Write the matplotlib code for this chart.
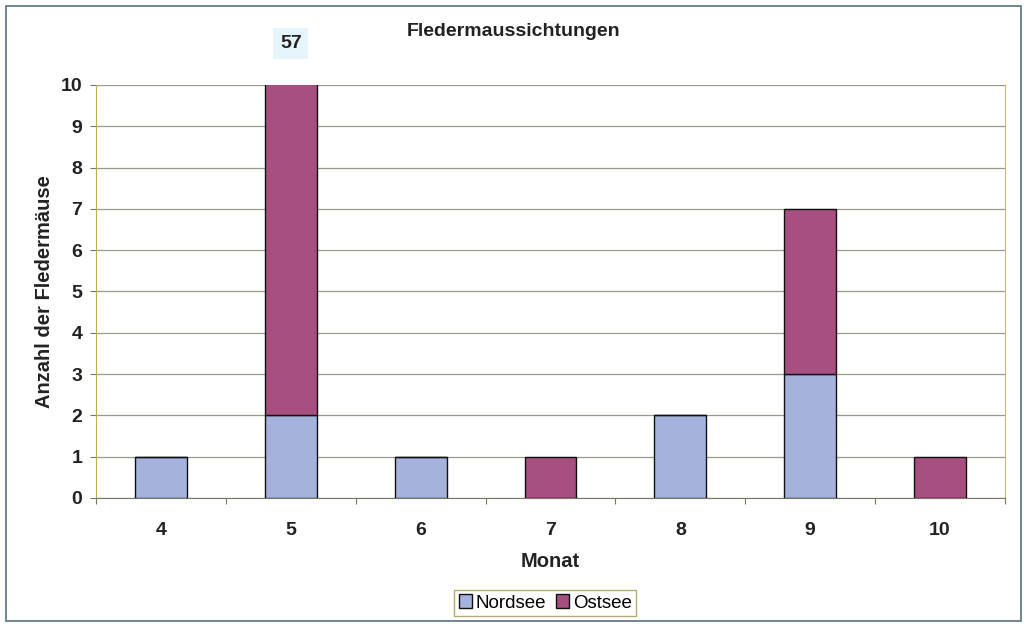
import numpy as np
from matplotlib import pyplot as plt
from matplotlib.patches import Rectangle

plt.rcParams['font.family'] = ['Liberation Sans', 'DejaVu Sans']

# Daten
monate = ["4", "5", "6", "7", "8", "9", "10"]
nordsee = [1, 2, 1, 0, 2, 3, 0]
ostsee = [0, 55, 0, 1, 0, 4, 1]

col_nord = "#a5b3dc"
col_ost = "#a64f80"

fig = plt.figure(figsize=(10.27, 6.29), dpi=100)
ax = fig.add_axes([0.0935, 0.2083, 0.885, 0.6566])

x = np.arange(len(monate))
ax.bar(x, nordsee, width=0.4, color=col_nord, edgecolor="#111111", linewidth=1.0,
       label="Nordsee", zorder=3)
ax.bar(x, ostsee, width=0.4, bottom=nordsee, color=col_ost, edgecolor="#111111",
       linewidth=1.0, label="Ostsee", zorder=3)

ax.set_xlim(-0.5, len(monate) - 0.5)
ax.set_ylim(0, 10)
ax.set_yticks(range(0, 11))
ax.yaxis.grid(True, color="#9a9a88", linewidth=0.9, zorder=0)

# x-Ticks zwischen den Kategorien, Beschriftung mittig
ax.set_xticks(np.arange(-0.5, len(monate)), minor=False)
ax.set_xticklabels([])
ax.set_xticks(x, minor=True)
ax.set_xticklabels(monate, minor=True)
ax.tick_params(axis="x", which="minor", length=0, pad=17)
ax.tick_params(axis="x", which="major", length=4, color="#777766")
ax.tick_params(axis="y", length=4, color="#777766", pad=6)
for lab in ax.get_xticklabels(minor=True) + ax.get_yticklabels():
    lab.set_fontweight("bold")
    lab.set_fontsize(14)
    lab.set_color("#222222")

ax.spines["top"].set_visible(False)
ax.spines["left"].set_color("#b8ae50")
ax.spines["right"].set_color("#d4c040")
ax.spines["bottom"].set_color("#777766")

ax.set_xlabel("Monat", fontsize=14.5, fontweight="bold", labelpad=10, color="#222222")
ax.set_ylabel("Anzahl der Fledermäuse", fontsize=14.5, fontweight="bold", labelpad=5,
              color="#222222")

fig.text(0.5, 0.95, "Fledermaussichtungen", ha="center", va="center",
         fontsize=14, fontweight="bold", color="#222222")

# Summe des abgeschnittenen Balkens
gesamt = nordsee[1] + ostsee[1]
ax.text(x[1], 1.10, str(gesamt), transform=ax.get_xaxis_transform(), ha="center",
        va="center", fontsize=14, fontweight="bold", color="#222222",
        bbox=dict(boxstyle="square,pad=0.35", facecolor="#e6f5fb", edgecolor="none"))

leg = ax.legend(loc="center", bbox_to_anchor=(0.531, 0.0414), bbox_transform=fig.transFigure,
                ncol=2, fontsize=13.5, frameon=True, fancybox=False, handlelength=0.7,
                handleheight=0.7, handletextpad=0.2, columnspacing=0.5, borderpad=0.25)
leg.get_frame().set_edgecolor("#a09a50")
leg.get_frame().set_linewidth(1.0)

fig.patches.append(Rectangle((0.006, 0.012), 0.988, 0.978, transform=fig.transFigure,
                             fill=False, edgecolor="#5a7080", linewidth=1.2))

fig.savefig("out.png", dpi=100)
